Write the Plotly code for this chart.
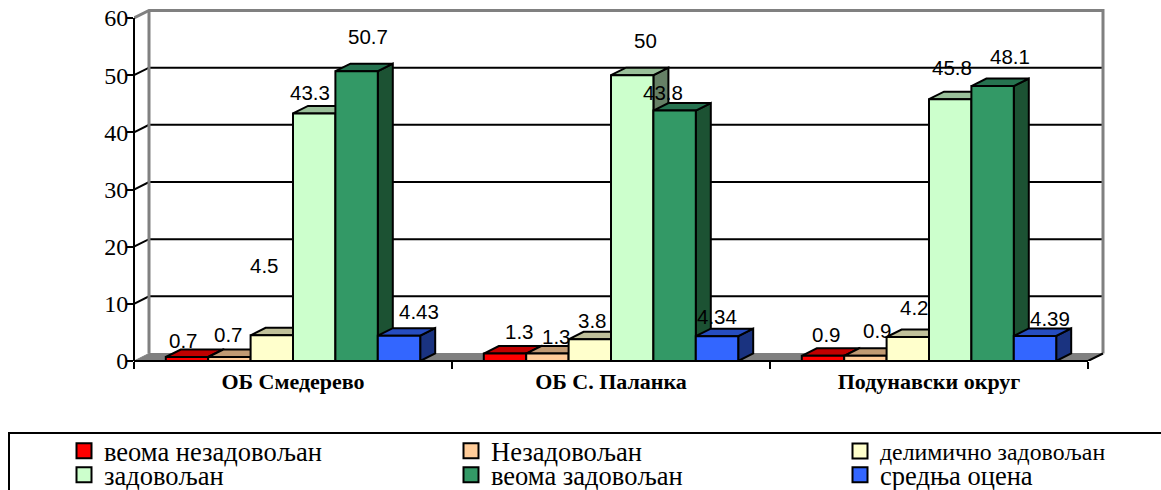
import plotly.graph_objects as go

categories = ["ОБ Смедерево", "ОБ С. Паланка", "Подунавски округ"]
series_names = ["веома незадовољан", "Незадовољан", "делимично задовољан",
                "задовољан", "веома задовољан", "средња оцена"]
s_very_unsatisfied = [0.7, 1.3, 0.9]
s_unsatisfied = [0.7, 1.3, 0.9]
s_partly = [4.5, 3.8, 4.2]
s_satisfied = [43.3, 50, 45.8]
s_very_satisfied = [50.7, 43.8, 48.1]
s_mean = [4.43, 4.34, 4.39]
series_values = [s_very_unsatisfied, s_unsatisfied, s_partly, s_satisfied, s_very_satisfied, s_mean]
label_texts = [["0.7", "1.3", "0.9"], ["0.7", "1.3", "0.9"], ["4.5", "3.8", "4.2"],
               ["43.3", "50", "45.8"], ["50.7", "43.8", "48.1"], ["4.43", "4.34", "4.39"]]
y_ticks = [0, 10, 20, 30, 40, 50, 60]

front = ["#FF0000", "#FFCC99", "#FFFFCC", "#CCFFCC", "#339966", "#3366FF"]
top = ["#C00000", "#C09A73", "#C0C09A", "#9AC09A", "#267350", "#264DC0"]
side = ["#800000", "#80664D", "#80806A", "#668066", "#1C5233", "#1A3380"]

# per-label pixel offsets (series x group) from the bar's top centre
off_x = [[-4, 14, 3], [-1, 9, 12], [-7, 3, 7], [-4, 13, 2], [11, -12, 17], [20, 0, 15]]
off_y = [[17, 22, 21], [23, 17, 25], [70, 19, 29], [21, 35, 32], [35, 18, 30], [24, 20, 17]]

# legend entry slots, in page pixels: one per series
legend_left = [64, 451, 840, 64, 451, 840]
legend_mid = [451, 451, 451, 475, 475, 475]
legend_size = [26.5, 26.5, 23.8, 26.5, 26.5, 26.5]

# front-plane corners of the chart, and the full plot area including the depth
L, R, T, B = 134, 1088, 18, 361
R_PLOT, T_PLOT = 1106, 8
W, H = 1161, 490
px_x = (R - L) / 3
px_y = (B - T) / 60
DX = 15 / px_x
DY = 7.5 / px_y
GROUP = 0.8
BAR = GROUP / 6
paper_x = lambda px: (px - L) / (R_PLOT - L)
paper_y = lambda px: (B - px) / (B - T_PLOT)


def poly(xs, ys, fill, line="black", width=2):
    return go.Scatter(x=xs + xs[:1], y=ys + ys[:1], mode="lines", fill="toself", fillcolor=fill,
                      line=dict(color=line, width=width), hoverinfo="skip", showlegend=False)


def seg(xs, ys, color="black", width=2):
    return go.Scatter(x=xs, y=ys, mode="lines", line=dict(color=color, width=width),
                      hoverinfo="skip", showlegend=False)


fig = go.Figure()

# floor
fig.add_trace(poly([0, 3, 3 + DX, DX], [0, 0, DY, DY], "#808080", "#808080", 1))
# grid on the back wall and the side wall
for v in y_ticks[1:-1]:
    fig.add_trace(seg([0, DX, 3 + DX], [v, v + DY, v + DY]))
fig.add_trace(seg([0, DX, 3 + DX, 3 + DX], [60, 60 + DY, 60 + DY, DY], "#808080", 3))
fig.add_trace(seg([DX, DX], [60 + DY, DY], "#808080", 3))
fig.add_trace(seg([3, 3 + DX], [0, DY]))

# bars
ann = []
for g in range(3):
    for s, vals in enumerate(series_values):
        v = vals[g]
        x0 = g + (1 - GROUP) / 2 + s * BAR
        x1 = x0 + BAR
        fig.add_trace(poly([x1, x1 + DX, x1 + DX, x1], [0, DY, v + DY, v], side[s]))
        fig.add_trace(poly([x0, x1, x1 + DX, x0 + DX], [v, v, v + DY, v + DY], top[s]))
        fig.add_trace(poly([x0, x1, x1, x0], [0, 0, v, v], front[s]))
        ann.append(dict(x=(x0 + x1) / 2, y=v, xref="x", yref="y", text=label_texts[s][g],
                        showarrow=False, xshift=off_x[s][g], yshift=off_y[s][g],
                        font=dict(family="Liberation Sans", size=20.5, color="black")))

# legend entries: each series has its own one-entry legend
legends = {}
for s, name in enumerate(series_names):
    key = "legend" if s == 0 else f"legend{s + 1}"
    fig.add_trace(go.Scatter(x=[None], y=[None], mode="markers", name=name, legend=key,
                             showlegend=True,
                             marker=dict(symbol="square", size=15, color=front[s],
                                         line=dict(color="black", width=2))))
    legends[key] = dict(xref="container", yref="container", x=legend_left[s] / W, xanchor="left",
                        y=1 - legend_mid[s] / H, yanchor="middle",
                        font=dict(family="Liberation Serif", size=legend_size[s]),
                        bgcolor="rgba(0,0,0,0)", itemclick=False, itemdoubleclick=False)

black_line = dict(color="black", width=2)
fig.update_layout(
    width=W, height=H, margin=dict(l=L, r=W - R_PLOT, t=T_PLOT, b=H - B, autoexpand=False),
    paper_bgcolor="white", plot_bgcolor="white", annotations=ann,
    font=dict(family="Liberation Serif", color="black"),
    shapes=[
        dict(type="rect", xref="paper", yref="paper", x0=paper_x(9), x1=paper_x(1175),
             y0=paper_y(505), y1=paper_y(433), line=black_line, fillcolor="rgba(0,0,0,0)"),
        dict(type="line", xref="paper", yref="paper", x0=paper_x(L), x1=paper_x(R),
             y0=paper_y(B), y1=paper_y(B), line=black_line),
        dict(type="line", xref="paper", yref="paper", x0=paper_x(L), x1=paper_x(L),
             y0=paper_y(B), y1=paper_y(T), line=black_line),
    ],
    xaxis=dict(range=[0, (R_PLOT - L) / px_x], tickvals=[0.5, 1.5, 2.5], ticktext=categories,
               ticklen=0, tickfont=dict(family="Liberation Serif", size=22, weight="bold"),
               ticklabelstandoff=5, showgrid=False, zeroline=False, showline=False,
               fixedrange=True,
               minor=dict(dtick=1, tick0=0, ticks="outside", ticklen=7, tickwidth=2,
                          tickcolor="black", showgrid=False)),
    yaxis=dict(range=[0, (B - T_PLOT) / px_y], tickvals=y_ticks, ticks="outside", ticklen=6,
               tickwidth=2, tickcolor="black",
               tickfont=dict(family="Liberation Serif", size=24), ticklabelstandoff=-6,
               showgrid=False, zeroline=False, showline=False, fixedrange=True),
)
fig.update_layout(**legends)
fig.write_html("out.html", config=dict(displayModeBar=False),
               post_script="document.body.style.margin='0';")
